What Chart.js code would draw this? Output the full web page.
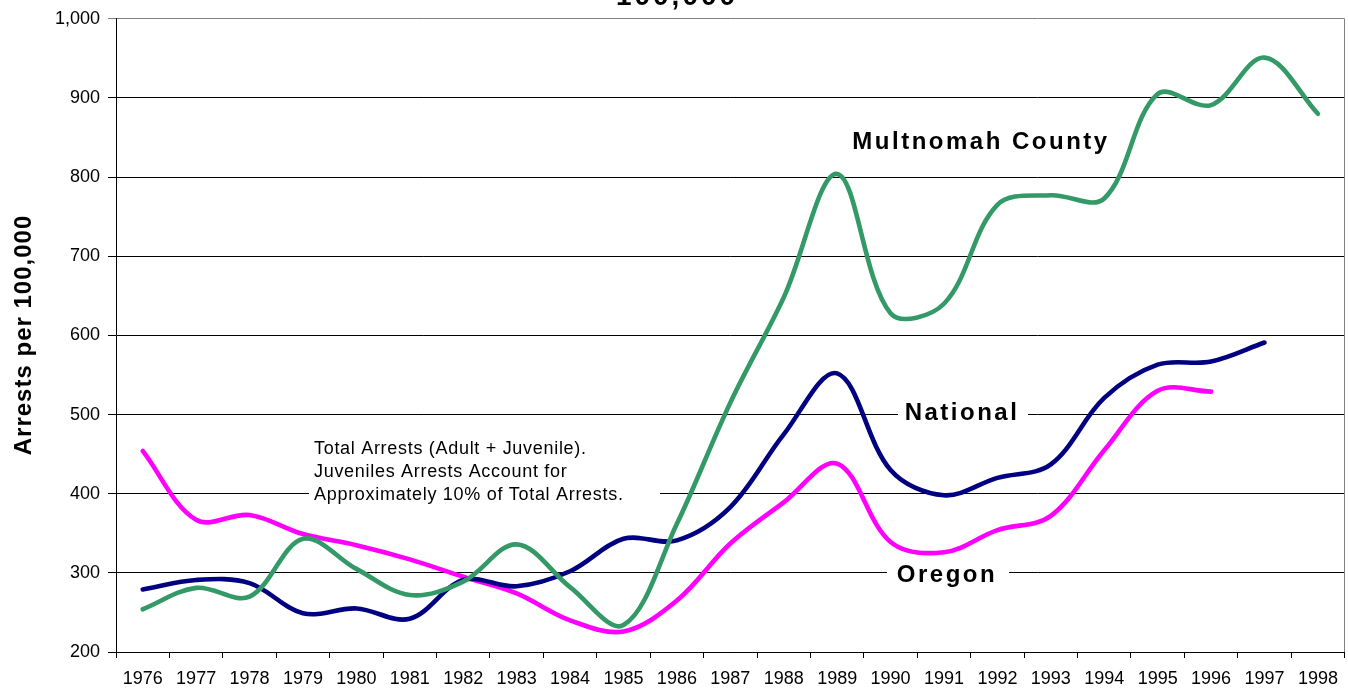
<!DOCTYPE html>
<html>
<head>
<meta charset="utf-8">
<script src="https://cdn.jsdelivr.net/npm/chart.js@4/dist/chart.umd.min.js"></script>
<style>
  html, body { margin: 0; padding: 0; background: #fff; }
  #wrap { width: 1348px; height: 688px; }
</style>
</head>
<body>
<div id="wrap"><canvas id="arrestsChart" width="1348" height="688"></canvas></div>
<script>
// Arrests per 100,000 by year
const years = ['1976', '1977', '1978', '1979', '1980', '1981', '1982', '1983', '1984', '1985', '1986',
    '1987', '1988', '1989', '1990', '1991', '1992', '1993', '1994', '1995', '1996', '1997', '1998'];

const multnomah = [254, 281, 270, 343, 305, 272, 289, 336, 282, 234, 362,
    515, 648, 804, 628, 640, 765, 777, 773, 905, 891, 951, 880];

const national = [279, 291, 287, 249, 255, 242, 291, 283, 302, 343, 341,
    383, 475, 552, 430, 398, 420, 437, 521, 563, 567, 591, null];

const oregon = [454, 367, 373, 349, 335, 317, 295, 274, 240, 226, 265,
    337, 389, 438, 339, 326, 354, 372, 455, 530, 529, null, null];

const yTicks = [200, 300, 400, 500, 600, 700, 800, 900, 1000];

const FONT = "'Liberation Sans', Arial, sans-serif";

Chart.defaults.color = '#000';
Chart.defaults.font.family = FONT;

// Labels, note box and frame drawn on the canvas
const labelsPlugin = {
    id: 'labels',
    beforeDatasetsDraw(chart) {
        const ctx = chart.ctx;
        const area = chart.chartArea;
        ctx.save();

        // white boxes behind the labels (break the gridlines)
        ctx.fillStyle = '#fff';
        ctx.fillRect(309, 436, 351, 66);
        ctx.fillRect(898, 398, 130, 32);
        ctx.fillRect(887, 560, 122, 32);

        // right frame
        ctx.strokeStyle = '#808080';
        ctx.lineWidth = 1;
        ctx.beginPath();
        ctx.moveTo(Math.round(area.right) - 0.5, area.top);
        ctx.lineTo(Math.round(area.right) - 0.5, area.bottom);
        ctx.stroke();

        ctx.fillStyle = '#000';
        ctx.textBaseline = 'middle';

        // series labels
        ctx.font = 'bold 24px ' + FONT;
        ctx.letterSpacing = '2.5px';
        ctx.textAlign = 'center';
        ctx.fillText('Multnomah County', 981, 142);
        ctx.fillText('National', 962, 413);
        ctx.fillText('Oregon', 947, 575);

        // note
        ctx.font = '18px ' + FONT;
        ctx.letterSpacing = '0.7px';
        ctx.textAlign = 'left';
        ctx.fillText('Total Arrests (Adult + Juvenile).', 314, 449);
        ctx.fillText('Juveniles Arrests Account for', 314, 472);
        ctx.fillText('Approximately 10% of Total Arrests.', 314, 495);

        ctx.restore();
    },
    afterDraw(chart) {
        const ctx = chart.ctx;
        ctx.save();
        ctx.fillStyle = '#000';
        ctx.textAlign = 'center';
        ctx.textBaseline = 'alphabetic';

        // chart title, cut off at the top of the picture
        ctx.font = 'bold 28px ' + FONT;
        ctx.letterSpacing = '3px';
        ctx.fillText('100,000', 677, 5);

        // y axis title
        ctx.font = 'bold 24px ' + FONT;
        ctx.letterSpacing = '1px';
        ctx.translate(31, 335);
        ctx.rotate(-Math.PI / 2);
        ctx.fillText('Arrests per 100,000', 0, 0);
        ctx.restore();
    }
};

function createChart() {
    const ctx = document.getElementById('arrestsChart').getContext('2d');
    new Chart(ctx, {
        type: 'line',
        data: {
            labels: years,
            datasets: [
                {
                    label: 'Multnomah County',
                    data: multnomah,
                    borderColor: '#339966',
                    borderWidth: 4.6
                },
                {
                    label: 'National',
                    data: national,
                    borderColor: '#000080',
                    borderWidth: 4.6
                },
                {
                    label: 'Oregon',
                    data: oregon,
                    borderColor: '#FF00FF',
                    borderWidth: 4.6
                }
            ]
        },
        options: {
            responsive: false,
            animation: false,
            layout: {
                padding: { top: 17, right: 3, left: 0, bottom: 0 }
            },
            elements: {
                line: { tension: 0.35, borderCapStyle: 'round', borderJoinStyle: 'round', fill: false },
                point: { radius: 0, hoverRadius: 0 }
            },
            plugins: {
                legend: { display: false },
                tooltip: { enabled: false }
            },
            scales: {
                x: {
                    type: 'category',
                    offset: true,
                    afterFit: scale => { scale.height = 36; },
                    grid: {
                        offset: true,
                        drawOnChartArea: false,
                        drawTicks: true,
                        tickLength: 6,
                        color: '#000',
                        lineWidth: 1
                    },
                    border: { color: '#000', width: 1 },
                    ticks: {
                        font: { size: 18 },
                        padding: 10,
                        maxRotation: 0,
                        autoSkip: false
                    }
                },
                y: {
                    min: yTicks[0],
                    max: yTicks[yTicks.length - 1],
                    afterFit: scale => { scale.width = 116; },
                    afterBuildTicks: scale => { scale.ticks = yTicks.map(v => ({ value: v })); },
                    grid: {
                        color: c => (c.tick && c.tick.value === 1000) ? '#808080' : '#000',
                        lineWidth: 1,
                        tickLength: 8
                    },
                    border: { color: '#000', width: 1 },
                    ticks: {
                        font: { size: 18 },
                        padding: 8,
                        callback: v => v.toLocaleString('en-US')
                    }
                }
            }
        },
        plugins: [labelsPlugin]
    });
}

createChart();
</script>
</body>
</html>
